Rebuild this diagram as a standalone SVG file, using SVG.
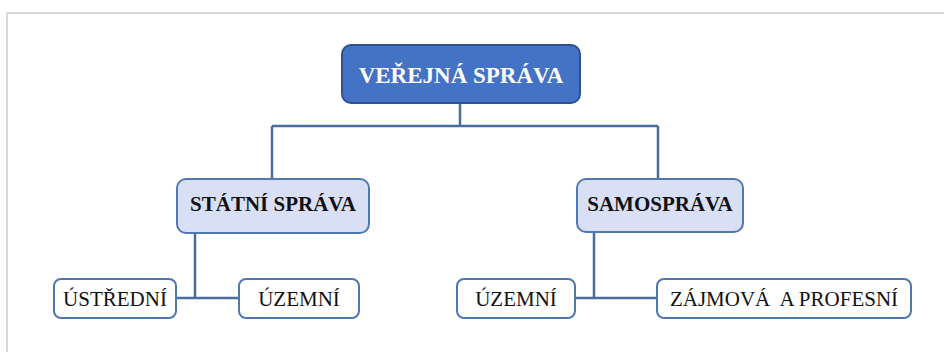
<svg xmlns="http://www.w3.org/2000/svg" width="944" height="352" viewBox="0 0 944 352">
<style>
.frame{fill:none;stroke:#d9d9d9;stroke-width:2}
.top{fill:#4472c4;stroke:#2f528f;stroke-width:2}
.mid{fill:#d9e0f6;stroke:#5078b0;stroke-width:2}
.low{fill:#ffffff;stroke:#5078b0;stroke-width:2}
.conn{fill:none;stroke:#4a6d9c;stroke-width:2.5}
.tt{font-family:"Liberation Serif","Times New Roman",serif;font-weight:bold;font-size:23px;fill:#ffffff;text-anchor:middle}
.mt{font-family:"Liberation Serif","Times New Roman",serif;font-weight:bold;font-size:21px;fill:#111111;text-anchor:middle}
.lt{font-family:"Liberation Serif","Times New Roman",serif;font-size:21px;fill:#111111;text-anchor:middle}
</style>
<rect width="944" height="352" fill="#ffffff"/>
<path class="frame" d="M7,352 V13 H944"/>
<g id="connectors">
<path class="conn" d="M460,103 V126 M272,126 H658 M272,126 V179 M658,126 V179"/>
<path class="conn" d="M195,233 V298 M176,298 H239"/>
<path class="conn" d="M594,232 V298 M575,298 H657"/>
</g>
<g id="verejna-sprava">
<rect class="top" x="342" y="45" width="238" height="58" rx="9"/>
<text class="tt" x="461" y="83">VEŘEJNÁ SPRÁVA</text>
</g>
<g id="statni-sprava">
<rect class="mid" x="177" y="179" width="192" height="54" rx="9"/>
<text class="mt" x="273" y="211">STÁTNÍ SPRÁVA</text>
</g>
<g id="samosprava">
<rect class="mid" x="577" y="179" width="166" height="53" rx="9"/>
<text class="mt" x="660" y="211">SAMOSPRÁVA</text>
</g>
<g id="ustredni">
<rect class="low" x="54" y="279" width="122" height="39" rx="7"/>
<text class="lt" x="115" y="306">ÚSTŘEDNÍ</text>
</g>
<g id="uzemni-statni">
<rect class="low" x="239" y="279" width="120" height="39" rx="7"/>
<text class="lt" x="299" y="306">ÚZEMNÍ</text>
</g>
<g id="uzemni-samosprava">
<rect class="low" x="457" y="279" width="118" height="39" rx="7"/>
<text class="lt" x="516" y="306">ÚZEMNÍ</text>
</g>
<g id="zajmova-profesni">
<rect class="low" x="657" y="279" width="254" height="39" rx="7"/>
<text class="lt" x="784" y="306" xml:space="preserve">ZÁJMOVÁ  A PROFESNÍ</text>
</g>
</svg>
